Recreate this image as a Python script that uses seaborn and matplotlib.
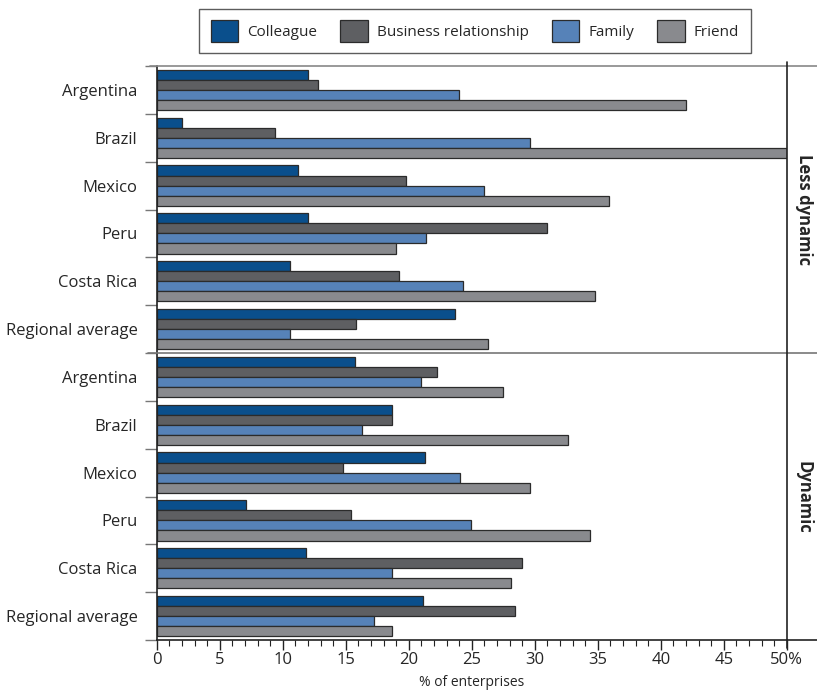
import pandas as pd
import matplotlib.pyplot as plt
import seaborn as sns
from matplotlib.lines import Line2D

# data
groups = ['Less dynamic', 'Dynamic']
countries = ['Argentina', 'Brazil', 'Mexico', 'Peru', 'Costa Rica', 'Regional average']
series = ['Colleague', 'Business relationship', 'Family', 'Friend']

colleague = [12.0, 2.0, 11.2, 12.0, 10.6, 23.7,
             15.7, 18.7, 21.3, 7.1, 11.8, 21.1]
business = [12.8, 9.4, 19.8, 31.0, 19.2, 15.8,
            22.2, 18.7, 14.8, 15.4, 29.0, 28.4]
family = [24.0, 29.6, 26.0, 21.4, 24.3, 10.6,
          21.0, 16.3, 24.1, 24.9, 18.7, 17.2]
friend = [42.0, 50.0, 35.9, 19.0, 34.8, 26.3,
          27.5, 32.6, 29.6, 34.4, 28.1, 18.7]

colors = ['#0a4f8c', '#5e5f62', '#5682b8', '#898a8e']

rows = [g + '|' + c for g in groups for c in countries]
df = pd.DataFrame({'row': rows, 'Colleague': colleague,
                   'Business relationship': business,
                   'Family': family, 'Friend': friend})
long = df.melt(id_vars='row', var_name='series', value_name='pct')

sns.set_style('white')
plt.rcParams['font.family'] = ['Open Sans', 'DejaVu Sans']

fig = plt.figure(figsize=(8.17, 6.91), dpi=100)
ax = fig.add_axes([0.192, 1 - 640 / 691, 0.771, (640 - 66) / 691])

sns.barplot(data=long, y='row', x='pct', hue='series', order=rows,
            hue_order=series, palette=colors, orient='h', width=0.84,
            edgecolor='#2b2b2b', linewidth=0.9, saturation=1, ax=ax)

ax.set_xlim(0, 50)
ax.set_ylim(len(rows) - 0.5, -0.5)
ax.set_xticks(range(0, 51, 5))
ax.set_xticks(range(0, 51, 1), minor=True)
ax.set_xticklabels([str(v) for v in range(0, 50, 5)] + ['50%'], fontsize=12)
ax.tick_params(axis='x', which='major', direction='out', length=7, width=1,
               color='#222222', pad=2, bottom=True)
ax.tick_params(axis='x', which='minor', direction='out', length=4, width=0.8,
               color='#222222', bottom=True)

ax.set_yticks(range(len(rows)))
ax.set_yticklabels(countries * 2, fontsize=12)
ax.set_yticks([i + 0.5 for i in range(-1, len(rows))], minor=True)
ax.tick_params(axis='y', which='major', length=0, pad=14)
ax.tick_params(axis='y', which='minor', direction='out', length=9, width=1,
               color='#777777', left=True)

ax.set_xlabel('% of enterprises', fontsize=10, labelpad=5)
ax.set_ylabel('')

for side in ['top', 'right']:
    ax.spines[side].set_visible(False)
ax.spines['left'].set_color('#222222')
ax.spines['bottom'].set_color('#222222')
ax.spines['left'].set_linewidth(1.2)
ax.spines['bottom'].set_linewidth(1.2)

# frame lines extending into the group label column
x0, x1 = 150 / 817, 1.0
ytop = 1 - 66 / 691
ymid = 1 - 353 / 691
ybot = 1 - 640 / 691
xr = 787 / 817
fig.add_artist(Line2D([x0, x1], [ytop, ytop], color='#888888', lw=1.2))
fig.add_artist(Line2D([148 / 817, x1], [ymid, ymid], color='#777777', lw=1.2))
fig.add_artist(Line2D([xr, x1], [ybot, ybot], color='#222222', lw=1.2))
fig.add_artist(Line2D([xr, xr], [1 - 62 / 691, 1 - 648 / 691], color='#222222', lw=1.2))

fig.text(804 / 817, 1 - 209 / 691, 'Less dynamic', rotation=-90, ha='center',
         va='center', fontsize=12, fontweight='bold')
fig.text(804 / 817, 1 - 497 / 691, 'Dynamic', rotation=-90, ha='center',
         va='center', fontsize=12, fontweight='bold')

ax.legend_.remove()
handles, labels = ax.get_legend_handles_labels()
leg = fig.legend(handles, labels, ncol=4, loc='center',
                 bbox_to_anchor=(475 / 817, 1 - 31 / 691), frameon=True,
                 fancybox=False, edgecolor='#333333', fontsize=11,
                 handlelength=1.8, handleheight=1.8, handletextpad=0.6,
                 columnspacing=1.5, borderpad=0.75)
leg.get_frame().set_linewidth(1.0)

fig.savefig('out.png', dpi=100)
